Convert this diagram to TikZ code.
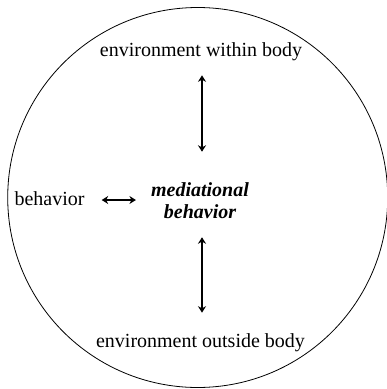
\documentclass[tikz,border=0pt]{standalone}
\usepackage{fontspec}
\setmainfont{Liberation Serif}
\usetikzlibrary{arrows.meta,positioning}

\begin{document}
\begin{tikzpicture}[
  x=1pt, y=-1pt,
  font=\fontsize{20}{22}\selectfont,
  >={Stealth[length=6.5pt,width=8pt]},
  lbl/.style={inner sep=0pt, align=center},
  core/.style={lbl, font=\fontsize{20}{22}\selectfont\bfseries\itshape},
  link/.style={<->, line width=1.6pt},
  ring/.style={draw, circle, line width=0.8pt, minimum size=380pt, inner sep=0pt},
]
\useasboundingbox (0,0) rectangle (387,389);
% ---------------- boundary ----------------
\node[ring] (body) at (197.7,197.5) {};

% ---------------- labels ----------------
\node[core] (med) at (200,201) {mediational\\behavior};
\node[lbl] (inner) at (201,52) {environment within body};
\node[lbl] (outer) at (200.5,343) {environment outside body};
\node[lbl] (beh) at (49.5,199) {behavior};

% ---------------- links ----------------
\draw[link, shorten <=14pt, shorten >=31pt] (inner.south -| 202,0) -- (med.north -| 202,0);
\draw[link, shorten <=18pt, shorten >=21pt] (med.south -| 202,0) -- (outer.north -| 202,0);
\draw[link, shorten <=17pt, shorten >=15pt] (beh.east |- 0,200) -- (med.west |- 0,200);
\end{tikzpicture}
\end{document}
